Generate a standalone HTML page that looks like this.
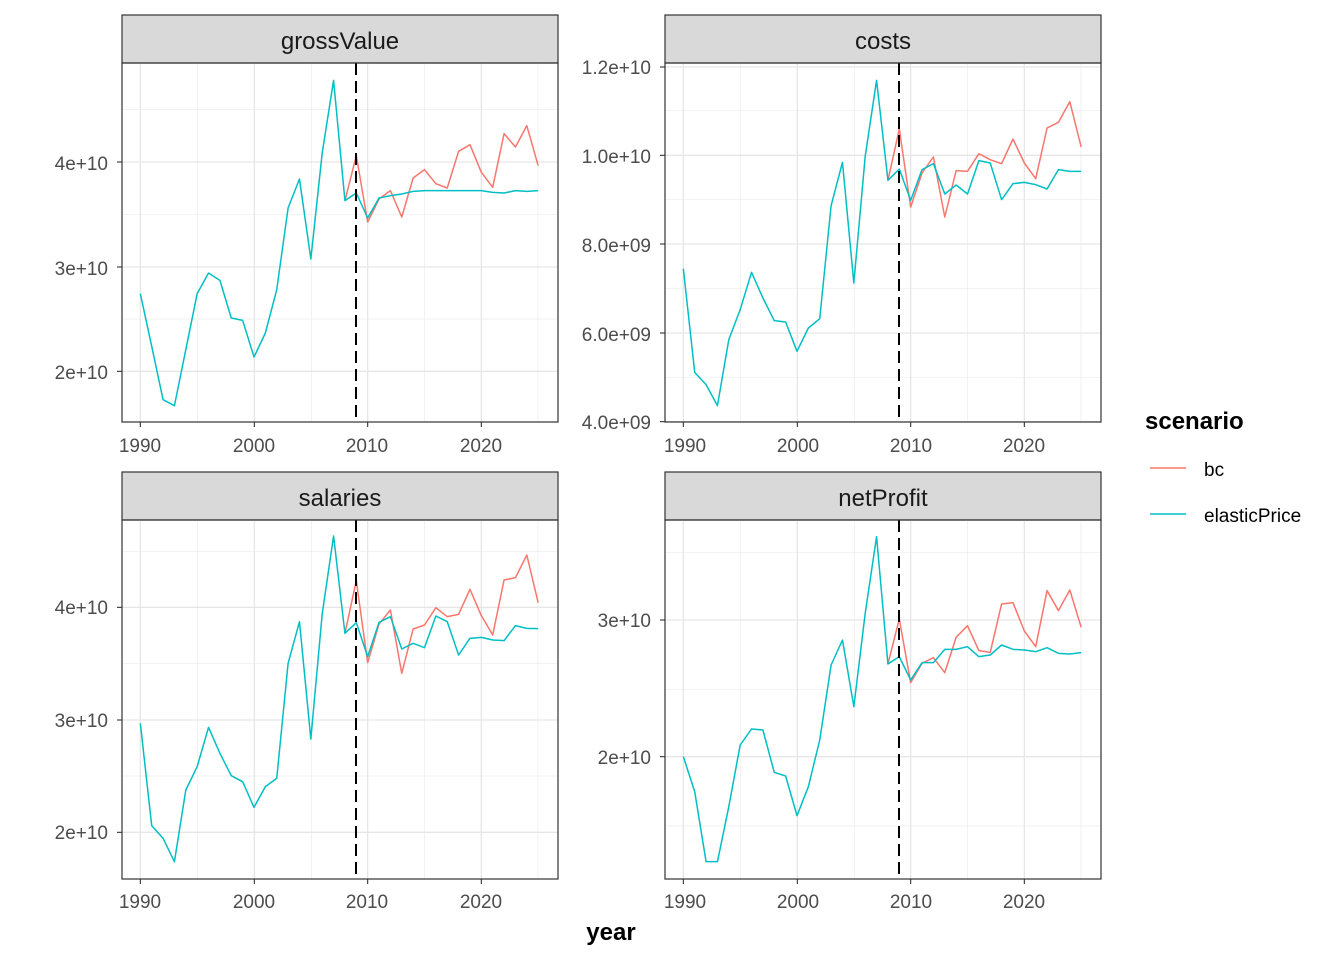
<!DOCTYPE html>
<html><head><meta charset="utf-8"><style>
html,body{margin:0;padding:0;background:#fff;}
svg{display:block;font-family:"Liberation Sans",sans-serif;}
</style></head><body>
<svg id="s" width="1344" height="960" viewBox="0 0 1344 960" xmlns="http://www.w3.org/2000/svg">
<rect width="1344" height="960" fill="#fff"/>
<g font-size="19" fill="#4d4d4d" text-anchor="end">
<text x="108" y="170">4e+10</text><text x="108" y="275">3e+10</text><text x="108" y="379">2e+10</text>
<text x="651" y="74">1.2e+10</text><text x="651" y="163">1.0e+10</text><text x="651" y="252">8.0e+09</text><text x="651" y="341">6.0e+09</text><text x="651" y="429">4.0e+09</text>
<text x="108" y="614">4e+10</text><text x="108" y="727">3e+10</text><text x="108" y="839">2e+10</text>
<text x="651" y="627">3e+10</text><text x="651" y="764">2e+10</text>
</g>
<g font-size="19" fill="#4d4d4d" text-anchor="middle">
<text x="140" y="452">1990</text><text x="254" y="452">2000</text><text x="367" y="452">2010</text><text x="481" y="452">2020</text>
<text x="685" y="452">1990</text><text x="798" y="452">2000</text><text x="911" y="452">2010</text><text x="1024" y="452">2020</text>
<text x="140" y="908">1990</text><text x="254" y="908">2000</text><text x="367" y="908">2010</text><text x="481" y="908">2020</text>
<text x="685" y="908">1990</text><text x="798" y="908">2000</text><text x="911" y="908">2010</text><text x="1024" y="908">2020</text>
</g>
<text x="611" y="940" font-size="24" font-weight="bold" text-anchor="middle" fill="#000">year</text>
<text x="1145" y="429" font-size="24" font-weight="bold" fill="#000">scenario</text>
<line x1="1150" y1="468" x2="1186" y2="468" stroke="#F8766D" stroke-width="1.5"/>
<line x1="1150" y1="514" x2="1186" y2="514" stroke="#00BFC4" stroke-width="1.5"/>
<text x="1204" y="476" font-size="19" fill="#000">bc</text>
<text x="1204" y="522" font-size="19" fill="#000">elasticPrice</text>
</svg>
<script>
var NS="http://www.w3.org/2000/svg",S=document.getElementById("s");
function el(t,a,p){var e=document.createElementNS(NS,t);for(var k in a)e.setAttribute(k,a[k]);(p||S).appendChild(e);return e;}
var panels=[
{x:122,y:63,t:"grossValue",maj:[297,612,925],min:[140,455,768],
e:[692,850,1010,1028,860,692,630,652,765,772,882,810,680,435,348,588,270,52,413,390,465,405,398,393,385,383,383,383,383,383,383,388,390,383,385,383],
b:[413,278,477,408,383,462,345,320,362,375,265,245,328,373,212,252,188,308]},
{x:665,y:63,t:"costs",maj:[12,277,543,810,1076],min:[142,409,677,943],
e:[617,928,965,1028,830,740,628,705,773,777,865,795,767,428,298,660,280,52,352,318,412,320,302,393,366,393,293,300,410,362,358,365,378,320,325,325],
b:[352,198,432,330,282,462,323,325,272,290,302,228,300,347,195,178,116,252]},
{x:122,y:520,t:"salaries",maj:[262,600,937],min:[95,430,768],
e:[610,917,955,1025,810,740,622,700,767,785,862,800,775,430,305,657,282,48,340,308,410,307,290,387,370,383,288,305,405,355,352,360,362,317,325,326],
b:[340,182,428,312,270,460,327,315,263,290,283,208,287,345,180,173,105,248]},
{x:665,y:520,t:"netProfit",maj:[300,710],min:[97,508,918],
e:[710,815,1025,1025,860,675,627,630,757,768,887,800,660,435,360,560,280,50,432,410,480,428,428,388,388,380,410,405,375,388,390,395,383,400,402,398],
b:[432,297,488,430,413,458,352,317,392,397,252,248,333,380,212,272,210,322]}];
panels.forEach(function(p){
 el("rect",{x:p.x,y:p.y-48,width:436,height:48,fill:"#d9d9d9",stroke:"#333","stroke-width":1.2});
 var tx=el("text",{x:p.x+218,y:p.y-14,"font-size":24,"text-anchor":"middle",fill:"#1a1a1a"});tx.textContent=p.t;
 var g=el("g",{transform:"translate("+p.x+","+p.y+") scale(0.3333333)"});
 var ln=function(a){return el("line",a,g);};
 p.min.forEach(function(y){ln({x1:0,x2:1308,y1:y,y2:y,stroke:"#ececec","stroke-width":0.7,"vector-effect":"non-scaling-stroke"});});
 [227,568,908,1248].forEach(function(x){ln({x1:x,x2:x,y1:0,y2:1080,stroke:"#ececec","stroke-width":0.7,"vector-effect":"non-scaling-stroke"});});
 p.maj.forEach(function(y){ln({x1:0,x2:1308,y1:y,y2:y,stroke:"#e6e6e6","stroke-width":1.3,"vector-effect":"non-scaling-stroke"});
   el("line",{x1:p.x-5,x2:p.x,y1:p.y+y/3,y2:p.y+y/3,stroke:"#333","stroke-width":1.1});});
 [55,397,737,1078].forEach(function(x){ln({x1:x,x2:x,y1:0,y2:1080,stroke:"#e6e6e6","stroke-width":1.3,"vector-effect":"non-scaling-stroke"});
   el("line",{x1:p.x+x/3,x2:p.x+x/3,y1:p.y+359,y2:p.y+364,stroke:"#333","stroke-width":1.1});});
 function pl(arr,start,col){var pts=arr.map(function(v,i){return (55+34.1*(i+start)).toFixed(1)+","+v;}).join(" ");
   el("polyline",{points:pts,fill:"none",stroke:col,"stroke-width":1.5,"vector-effect":"non-scaling-stroke","stroke-linejoin":"round"},g);}
 pl(p.b,18,"#F8766D");pl(p.e,0,"#00BFC4");
 ln({x1:702,x2:702,y1:0,y2:1080,stroke:"#000","stroke-width":2,"stroke-dasharray":"12,6","vector-effect":"non-scaling-stroke"});
 el("rect",{x:p.x,y:p.y,width:436,height:359,fill:"none",stroke:"#333","stroke-width":1.2});
});
</script>
</body></html>
